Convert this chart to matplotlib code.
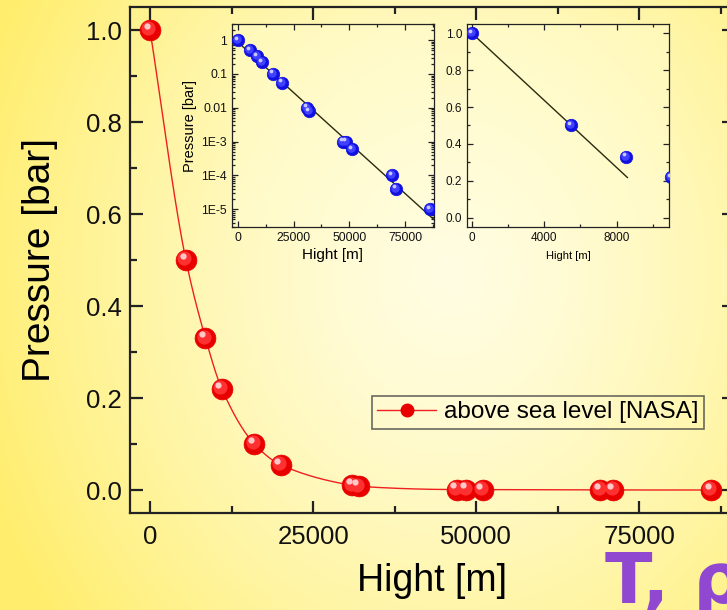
import numpy as np
import matplotlib
matplotlib.use("Agg")
import matplotlib.pyplot as plt
from matplotlib import transforms
from matplotlib.lines import Line2D
from matplotlib.ticker import MultipleLocator, FixedLocator, NullFormatter

plt.rcParams['font.family'] = ['Liberation Sans', 'DejaVu Sans']

# ---------------- data ----------------
height_m = [0, 5500, 8500, 11000, 16000, 20000, 31000, 32000,
            47000, 48500, 51000, 69000, 71000, 86000]
pressure_bar = [1.0, 0.5, 0.33, 0.22, 0.1, 0.055, 0.01, 0.008,
                0.001, 0.001, 0.0006, 0.0001, 0.00004, 0.00001]
legend_label = "above sea level [NASA]"
main_xticks = [0, 25000, 50000, 75000]
main_yticks = [0.0, 0.2, 0.4, 0.6, 0.8, 1.0]
log_yticks = [1, 0.1, 0.01, 1e-3, 1e-4, 1e-5]
log_yticklabels = ["1", "0.1", "0.01", "1E-3", "1E-4", "1E-5"]
log_xticks = [0, 25000, 50000, 75000]
lin_xticks = [0, 4000, 8000]
lin_yticks = [0.0, 0.2, 0.4, 0.6, 0.8, 1.0]

hx = np.array(height_m, dtype=float)
py = np.array(pressure_bar, dtype=float)

# ---------------- helpers ----------------
def pchip(x, y, xn):
    h = np.diff(x)
    d = np.diff(y) / h
    m = np.zeros_like(y)
    m[0], m[-1] = d[0], d[-1]
    for k in range(1, len(y) - 1):
        if d[k - 1] * d[k] > 0:
            w1 = 2 * h[k] + h[k - 1]
            w2 = h[k] + 2 * h[k - 1]
            m[k] = (w1 + w2) / (w1 / d[k - 1] + w2 / d[k])
    idx = np.clip(np.searchsorted(x, xn) - 1, 0, len(x) - 2)
    t = (xn - x[idx]) / h[idx]
    h00 = 2 * t**3 - 3 * t**2 + 1
    h10 = t**3 - 2 * t**2 + t
    h01 = -2 * t**3 + 3 * t**2
    h11 = t**3 - t**2
    return h00 * y[idx] + h10 * h[idx] * m[idx] + h01 * y[idx + 1] + h11 * h[idx] * m[idx + 1]


def spheres(ax, x, y, size, base, mid, hi, z=5):
    ax.plot(x, y, 'o', ms=size, mfc=base, mec=base, mew=0.5, ls='none', zorder=z)
    off1 = transforms.offset_copy(ax.transData, fig=ax.figure, x=-size * 0.08, y=size * 0.08, units='points')
    ax.plot(x, y, 'o', ms=size * 0.68, mfc=mid, mec='none', ls='none', zorder=z + 0.1, transform=off1)
    off2 = transforms.offset_copy(ax.transData, fig=ax.figure, x=-size * 0.16, y=size * 0.2, units='points')
    ax.plot(x, y, 'o', ms=size * 0.3, mfc=hi, mec='none', ls='none', zorder=z + 0.2, transform=off2)


def style_ax(ax, lw, majlen, minlen, labsize):
    for s in ax.spines.values():
        s.set_linewidth(lw)
        s.set_color('#222222')
    ax.tick_params(which='both', direction='in', top=True, right=True, width=lw,
                   colors='#222222', labelcolor='#111111', labelsize=labsize)
    ax.tick_params(which='major', length=majlen)
    ax.tick_params(which='minor', length=minlen)


W, H = 727, 610
fig = plt.figure(figsize=(W / 100, H / 100), dpi=100)

# background gradient
bg = fig.add_axes([0, 0, 1, 1], zorder=-10)
gx, gy = np.meshgrid(np.linspace(0, 1, 300), np.linspace(0, 1, 250))
dist = np.sqrt(((gx - 0.62) / 0.62) ** 2 + ((gy - 0.45) / 0.85) ** 2)
t = np.clip(dist, 0, 1.1) / 1.1
t = t ** 1.4
c_in = np.array([255, 253, 226]) / 255
c_out = np.array([255, 238, 110]) / 255
img = c_in[None, None, :] * (1 - t[..., None]) + c_out[None, None, :] * t[..., None]
bg.imshow(img, extent=[0, 1, 0, 1], origin='upper', aspect='auto')
bg.set_axis_off()

# ---------------- main axes ----------------
ax_left, ax_right = 130, 734
ax = fig.add_axes([ax_left / W, 97 / H, (ax_right - ax_left) / W, 506 / H])
ax.set_facecolor('none')
xs = np.linspace(hx.min(), hx.max(), 800)
ax.plot(xs, pchip(hx, py, xs), color='#ee2020', lw=1.0, zorder=3)
spheres(ax, hx, py, 15, '#e80000', '#ff3030', '#ffc8c8')
ax.set_xlim(-3067, 89500)
ax.set_ylim(-0.05, 1.05)
ax.set_xticks(main_xticks)
ax.xaxis.set_minor_locator(MultipleLocator(12500))
ax.set_yticks(main_yticks)
ax.set_yticklabels([f"{v:.1f}" for v in main_yticks])
ax.yaxis.set_minor_locator(MultipleLocator(0.1))
style_ax(ax, 1.6, 9, 5, 18.5)
ax.tick_params(axis='x', pad=9)
ax.tick_params(axis='y', pad=6)
ax.set_xlabel("Hight [m]", fontsize=27, labelpad=10)
ax.set_ylabel("Pressure [bar]", fontsize=28, labelpad=20)

handle = Line2D([], [], color='#ee2020', lw=1.0, marker='o', ms=9,
                mfc='#e80000', mec='#e80000')
leg = ax.legend([handle], [legend_label], loc='upper left',
                bbox_to_anchor=((372 - ax_left) / (ax_right - ax_left), (513 - 396) / 506),
                fontsize=17.5, frameon=True, fancybox=False,
                facecolor='none', edgecolor='#444444', handlelength=2.4,
                borderpad=0.22, handletextpad=0.35, borderaxespad=0)
leg.get_frame().set_linewidth(1.2)

# ---------------- inset 1: log ----------------
a1 = fig.add_axes([232 / W, (H - 227) / H, 202 / W, 203 / H])
a1.set_facecolor((1, 1, 0.85, 0.35))
a1.set_yscale('log')
coef = np.polyfit(hx, np.log(py), 1)
fx = np.linspace(-3000, 92000, 50)
a1.plot(fx, np.exp(np.polyval(coef, fx)), color='#2a2a10', lw=1.0, zorder=3)
spheres(a1, hx, py, 9, '#1010e0', '#4040ff', '#c8c8ff')
a1.set_xlim(-2600, 88000)
a1.set_ylim(3e-6, 3)
a1.set_xticks(log_xticks)
a1.xaxis.set_minor_locator(MultipleLocator(12500))
a1.yaxis.set_major_locator(FixedLocator(log_yticks))
a1.set_yticklabels(log_yticklabels)
a1.yaxis.set_minor_formatter(NullFormatter())
style_ax(a1, 0.9, 4, 2, 8.8)
a1.set_xlabel("Hight [m]", fontsize=11, labelpad=3)
a1.set_ylabel("Pressure [bar]", fontsize=10.5, labelpad=3)

# ---------------- inset 2: linear ----------------
a2 = fig.add_axes([467 / W, (H - 227) / H, 202 / W, 203 / H])
a2.set_facecolor((1, 1, 0.85, 0.35))
lc = np.polyfit(hx[:2], py[:2], 1)
lx = np.array([0, 8600])
a2.plot(lx, np.polyval(lc, lx), color='#2a2a10', lw=1.0, zorder=3)
spheres(a2, hx, py, 9, '#1010e0', '#4040ff', '#c8c8ff')
a2.set_xlim(-270, 10900)
a2.set_ylim(-0.05, 1.05)
a2.set_xticks(lin_xticks)
a2.xaxis.set_minor_locator(MultipleLocator(2000))
a2.set_yticks(lin_yticks)
a2.set_yticklabels([f"{v:.1f}" for v in lin_yticks])
a2.yaxis.set_minor_locator(MultipleLocator(0.1))
style_ax(a2, 0.9, 4, 2, 8.5)
a2.set_xlabel("Hight [m]", fontsize=8, labelpad=5)

# slide decoration text
fig.text(605 / W, 7 / H, "T, ρ", fontsize=50, fontweight='bold',
         color='#9048d0', family='DejaVu Sans', ha='left', va='baseline')

fig.savefig("out.png", dpi=100)
